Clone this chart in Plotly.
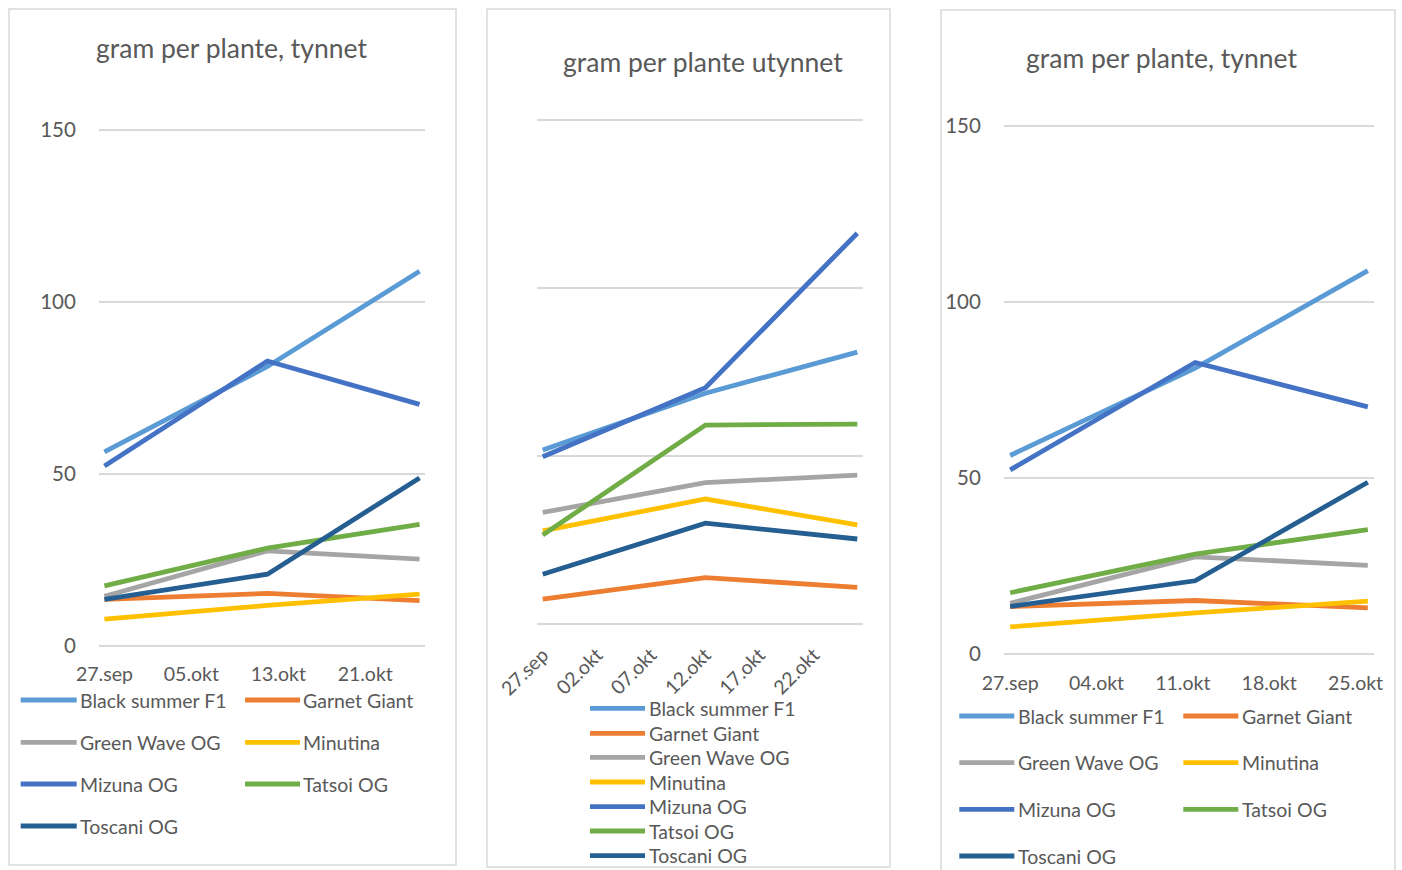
import plotly.graph_objects as go

W, H = 1402, 870

# ---- data -------------------------------------------------------------
dates = ["2021-09-27", "2021-10-12", "2021-10-26"]

series_names = ["Black summer F1", "Garnet Giant", "Green Wave OG", "Minutina",
                "Mizuna OG", "Tatsoi OG", "Toscani OG"]
series_colors = ["#5B9BD5", "#ED7D31", "#A5A5A5", "#FFC000",
                 "#4472C4", "#70AD47", "#255E91"]

# gram per plante, tynnet
tynnet_black_summer = [56.4, 81.2, 108.9]
tynnet_garnet_giant = [13.5, 15.2, 13.1]
tynnet_green_wave = [14.4, 27.6, 25.2]
tynnet_minutina = [7.7, 11.7, 15.0]
tynnet_mizuna = [52.3, 82.8, 70.2]
tynnet_tatsoi = [17.4, 28.4, 35.3]
tynnet_toscani = [13.5, 20.8, 48.8]

# gram per plante utynnet
utynnet_black_summer = [51.8, 68.7, 80.9]
utynnet_garnet_giant = [7.4, 13.8, 10.9]
utynnet_green_wave = [33.2, 42.1, 44.3]
utynnet_minutina = [27.7, 37.2, 29.5]
utynnet_mizuna = [49.8, 70.3, 116.3]
utynnet_tatsoi = [26.5, 59.2, 59.5]
utynnet_toscani = [14.8, 30.0, 25.3]

tynnet = [tynnet_black_summer, tynnet_garnet_giant, tynnet_green_wave, tynnet_minutina,
          tynnet_mizuna, tynnet_tatsoi, tynnet_toscani]
utynnet = [utynnet_black_summer, utynnet_garnet_giant, utynnet_green_wave, utynnet_minutina,
           utynnet_mizuna, utynnet_tatsoi, utynnet_toscani]

titles = ["gram per plante, tynnet", "gram per plante utynnet", "gram per plante, tynnet"]

ticks1_vals = ["2021-09-27", "2021-10-05", "2021-10-13", "2021-10-21"]
ticks1_text = ["27.sep", "05.okt", "13.okt", "21.okt"]
ticks2_vals = ["2021-09-27", "2021-10-02", "2021-10-07", "2021-10-12", "2021-10-17", "2021-10-22"]
ticks2_text = ["27.sep", "02.okt", "07.okt", "12.okt", "17.okt", "22.okt"]
ticks3_vals = ["2021-09-27", "2021-10-04", "2021-10-11", "2021-10-18", "2021-10-25"]
ticks3_text = ["27.sep", "04.okt", "11.okt", "18.okt", "25.okt"]

y_ticks = [0, 50, 100, 150]

# ---- styling ---------------------------------------------------------
FONT = "Lato"
TEXT = "#595959"
GRID = "#D9D9D9"
LW = 4.8


def px(x):
    return x / W


def py(y):
    return 1 - y / H


def ydomain(y0_px, y150_px, pad=3):
    unit = (y0_px - y150_px) / 150
    return [py(y0_px + pad * unit), py(y150_px - pad * unit)]


fig = go.Figure()

panels = [
    dict(data=tynnet, x=(99, 425), y=(645.7, 130), tv=ticks1_vals, tt=ticks1_text,
         labels=True, angle=0, xlen=1),
    dict(data=utynnet, x=(537.3, 862.7), y=(624, 120), tv=ticks2_vals, tt=ticks2_text,
         labels=False, angle=-45, xlen=1),
    dict(data=tynnet, x=(1004, 1374), y=(654, 126), tv=ticks3_vals, tt=ticks3_text,
         labels=True, angle=0, xlen=1),
]

for i, p in enumerate(panels):
    n = "" if i == 0 else str(i + 1)
    for name, color, vals in zip(series_names, series_colors, p["data"]):
        fig.add_trace(go.Scatter(
            x=dates, y=vals, mode="lines", name=name,
            line=dict(color=color, width=LW),
            xaxis="x" + n, yaxis="y" + n, showlegend=False,
        ))
    fig.update_layout(**{
        "xaxis" + n: dict(
            domain=[px(p["x"][0]), px(p["x"][1])],
            type="date", range=["2021-09-26 12:00", "2021-10-26 12:00"],
            tickmode="array", tickvals=p["tv"], ticktext=p["tt"],
            tickangle=p["angle"], showgrid=False, zeroline=False, showline=False,
            ticks="outside", ticklen=p["xlen"], tickcolor="rgba(0,0,0,0)",
            tickfont=dict(family=FONT, size=19.5, color=TEXT),
            anchor="y" + n, fixedrange=True, automargin=False,
        ),
        "yaxis" + n: dict(
            domain=ydomain(p["y"][0], p["y"][1]),
            range=[-3, 153], tickmode="array", tickvals=y_ticks,
            showticklabels=p["labels"], showgrid=True, gridcolor=GRID, gridwidth=1.5,
            zeroline=False, showline=False,
            ticks="outside", ticklen=18, tickcolor="rgba(0,0,0,0)",
            tickfont=dict(family=FONT, size=20.5, color=TEXT),
            anchor="x" + n, fixedrange=True, automargin=False,
        ),
    })

# ---- frames, titles, legends ----------------------------------------
shapes = []
annotations = []

frames = [(9, 9, 456, 865), (487, 9, 890, 867), (941, 10, 1395, 885)]
for x0, y0, x1, y1 in frames:
    shapes.append(dict(type="rect", xref="paper", yref="paper",
                       x0=px(x0), x1=px(x1), y0=py(y0), y1=py(y1),
                       line=dict(color=GRID, width=1.5), fillcolor="rgba(0,0,0,0)",
                       layer="below"))

title_pos = [(231.7, 48), (703.3, 62), (1161.3, 58)]
for t, (cx, cy) in zip(titles, title_pos):
    annotations.append(dict(text=t, xref="paper", yref="paper", x=px(cx), y=py(cy),
                            xanchor="center", yanchor="middle", showarrow=False,
                            font=dict(family=FONT, size=26.5, color=TEXT)))

legend_layouts = [
    dict(cols=[(20.7, 76.7, 78), (245, 300, 301.3)], rows=[700, 742.3, 784, 826]),
    dict(cols=[(590, 645, 647)], rows=[708.3, 733.3, 757.3, 782, 806.7, 831, 855.7]),
    dict(cols=[(959.3, 1014.3, 1016.3), (1183.3, 1238.3, 1240.3)], rows=[716, 762.7, 809.3, 856]),
]
for lay in legend_layouts:
    ncol = len(lay["cols"])
    for k, (name, color) in enumerate(zip(series_names, series_colors)):
        lx0, lx1, tx = lay["cols"][k % ncol]
        ly = lay["rows"][k // ncol]
        shapes.append(dict(type="line", xref="paper", yref="paper",
                           x0=px(lx0), x1=px(lx1), y0=py(ly), y1=py(ly),
                           line=dict(color=color, width=LW)))
        annotations.append(dict(text=name, xref="paper", yref="paper", x=px(tx), y=py(ly),
                                xanchor="left", yanchor="middle", showarrow=False,
                                font=dict(family=FONT, size=19.5, color=TEXT)))

fig.update_layout(
    width=W, height=H, margin=dict(l=0, r=0, t=0, b=0, autoexpand=False),
    paper_bgcolor="white", plot_bgcolor="white",
    showlegend=False, shapes=shapes, annotations=annotations,
    font=dict(family=FONT, color=TEXT),
)

fig.write_html("out.html")
